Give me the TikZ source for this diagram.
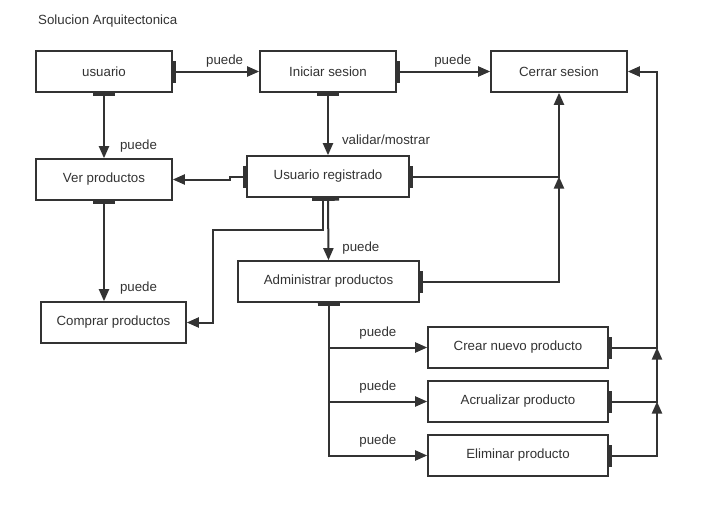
\documentclass[tikz,border=0pt]{standalone}
\usepackage{fontspec}
\setmainfont{Liberation Sans}
\usetikzlibrary{arrows.meta}
\definecolor{gris}{HTML}{333333}

\begin{document}
\begin{tikzpicture}[x=1pt,y=-1pt,
	caja/.style={draw=gris,line width=1.6pt,fill=white,minimum height=41pt,inner sep=0pt,text=gris,font=\fontsize{13.3}{15}\selectfont},
	flecha/.style={draw=gris,line width=2pt,arrows={Bar[width=22pt,line width=3pt]-Triangle[length=12pt,width=10pt]}},
	etiq/.style={text=gris,font=\fontsize{13.3}{15}\selectfont,inner sep=1pt}]
\useasboundingbox (0,0) rectangle (716,509);
\node[etiq,anchor=west] (titulo) at (37,21) {Solucion Arquitectonica};

\node[caja,minimum width=136pt] (usuario) at (104,71.5) {usuario};
\node[caja,minimum width=136pt] (inicio) at (328,71.5) {Iniciar sesion};
\node[caja,minimum width=136pt] (cerrar) at (559,71.5) {Cerrar sesion};
\node[caja,minimum width=136pt] (ver) at (104,179.5) {Ver productos};
\node[caja,minimum width=162pt] (registrado) at (328,176.5) {Usuario registrado};
\node[caja,minimum width=145pt] (comprar) at (113.5,322.5) {Comprar productos};
\node[caja,minimum width=181pt] (admin) at (328.5,281.5) {Administrar productos};
\coordinate (derecha) at (657,71.5);

\draw[flecha] (usuario.east) -- node[etiq,pos=0.6,above=2pt]{puede} (inicio.west);
\draw[flecha] (inicio.east) -- node[etiq,pos=0.6,above=2pt]{puede} (cerrar.west);
\draw[flecha] (usuario.south) -- node[etiq,pos=0.82,right=14pt]{puede} (ver.north);
\draw[flecha] (inicio.south) -- node[etiq,pos=0.75,right=12pt]{validar/mostrar} (registrado.north);
\draw[flecha] (registrado.west) -- ++(-16,0) |- (ver.east);
\draw[flecha] (registrado.east) -| (cerrar.south);
\draw[flecha] (admin.east) -| (cerrar.south |- registrado.east);
\draw[flecha] (registrado.south) -- node[etiq,pos=0.8,right=12pt]{puede} (admin.north);
\draw[flecha] ([xshift=-5pt]registrado.south) |- (213,230) |- (comprar.east);
\draw[flecha] (ver.south) -- node[etiq,pos=0.87,right=14pt]{puede} (ver.south |- comprar.north);

\foreach \n/\t/\y in {crear/Crear nuevo producto/347.5,actualizar/Acrualizar producto/401.5,eliminar/Eliminar producto/455.5}{
	\node[caja,minimum width=180pt] (\n) at (518,\y) {\t};
	\draw[flecha] (admin.south) |- node[etiq,pos=0.75,above=6pt]{puede} (\n.west);}

\draw[flecha] (crear.east) -| (derecha) -- (cerrar.east);
\draw[flecha] (actualizar.east) -| (derecha |- crear.east);
\draw[flecha] (eliminar.east) -| (derecha |- actualizar.east);
\end{tikzpicture}
\end{document}
